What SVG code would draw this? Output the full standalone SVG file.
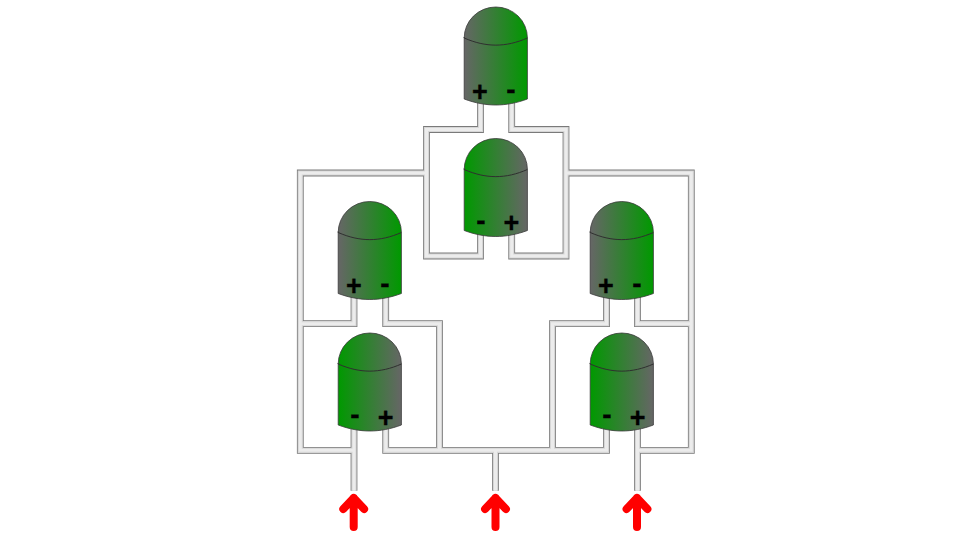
<svg xmlns="http://www.w3.org/2000/svg" width="960" height="540" viewBox="0 0 960 540">
<style>
.w{fill:none;stroke-linejoin:miter;stroke-linecap:butt}
.w1{stroke:#7a7a7a;stroke-width:6.8}
.w2{stroke:#d6d6d6;stroke-width:5.2}
.w3{stroke:#ececec;stroke-width:3}
.body{stroke:#3a3a3a;stroke-width:.8}
.seam{fill:none;stroke:#2f2f2f;stroke-width:1}
.sign{font-family:"Liberation Sans",Arial,sans-serif;font-weight:700;text-anchor:middle;fill:#000;stroke:#000;stroke-width:.3}
.p{font-size:27px}
.m{font-size:28px}
.arrow{fill:none;stroke:#ff0000;stroke-width:8;stroke-linecap:round;stroke-linejoin:round}
</style>
<defs>
<linearGradient id="gr" x1="0" x2="1" y1="0" y2="0"><stop offset="0" stop-color="#666666"/><stop offset="1" stop-color="#009900"/></linearGradient>
<linearGradient id="rg" x1="0" x2="1" y1="0" y2="0"><stop offset="0" stop-color="#009900"/><stop offset="1" stop-color="#666666"/></linearGradient>
<path id="led" d="M-31.6 30V31A31.6 31 0 0 1 31.6 31V92C10 100 -10 100 -31.6 92Z"/>
<path id="seam" d="M-31.6 31C-10 40.5 10 40.5 31.6 31"/>
<path id="net" d="M480.5 100V129.5H426.5V256H480.5V232M426.5 173H300.3V450.3H354M354 425V490.7M354 295V323.7H300.3M385.7 295V323.7H439.5V450.3M385.7 425V450.3H606.5V425M495.5 450.3V490.7M552.5 450.3V323.7H606.5V295M511.7 100V129.5H566V256H511.7V232M566 173H691.3V450.3H637.5M637.5 425V490.7M637.5 295V323.7H691.3"/>
</defs>
<g id="connectors">
<use href="#net" class="w w1"/>
<use href="#net" class="w w2"/>
<use href="#net" class="w w3"/>
</g>
<g id="led-top" transform="translate(495.8 7)"><use href="#led" fill="url(#gr)" class="body"/><use href="#seam" class="seam"/></g>
<text class="sign p" x="480" y="101">+</text><text class="sign m" x="511" y="99">-</text>
<g id="led-mid" transform="translate(495.8 138.500)"><use href="#led" fill="url(#rg)" class="body"/><use href="#seam" class="seam"/></g>
<text class="sign m" x="481" y="230">-</text><text class="sign p" x="511.500" y="232">+</text>
<g id="led-left" transform="translate(369.800 201.500)"><use href="#led" fill="url(#gr)" class="body"/><use href="#seam" class="seam"/></g>
<text class="sign p" x="354" y="295">+</text><text class="sign m" x="385" y="293">-</text>
<g id="led-left-low" transform="translate(369.800 333)"><use href="#led" fill="url(#rg)" class="body"/><use href="#seam" class="seam"/></g>
<text class="sign m" x="355" y="424">-</text><text class="sign p" x="385.700" y="426.500">+</text>
<g id="led-right" transform="translate(621.800 201.500)"><use href="#led" fill="url(#gr)" class="body"/><use href="#seam" class="seam"/></g>
<text class="sign p" x="606" y="295">+</text><text class="sign m" x="637" y="293">-</text>
<g id="led-right-low" transform="translate(621.800 333)"><use href="#led" fill="url(#rg)" class="body"/><use href="#seam" class="seam"/></g>
<text class="sign m" x="607" y="424">-</text><text class="sign p" x="637.700" y="426.500">+</text>
<g id="arrows">
<path class="arrow" d="M353.700 527V498M343.300 509L353.700 498L364.100 509"/>
<path class="arrow" d="M495.500 527V498M485.100 509L495.500 498L505.900 509"/>
<path class="arrow" d="M637 527V498M626.600 509L637 498L647.400 509"/>
</g>
</svg>
